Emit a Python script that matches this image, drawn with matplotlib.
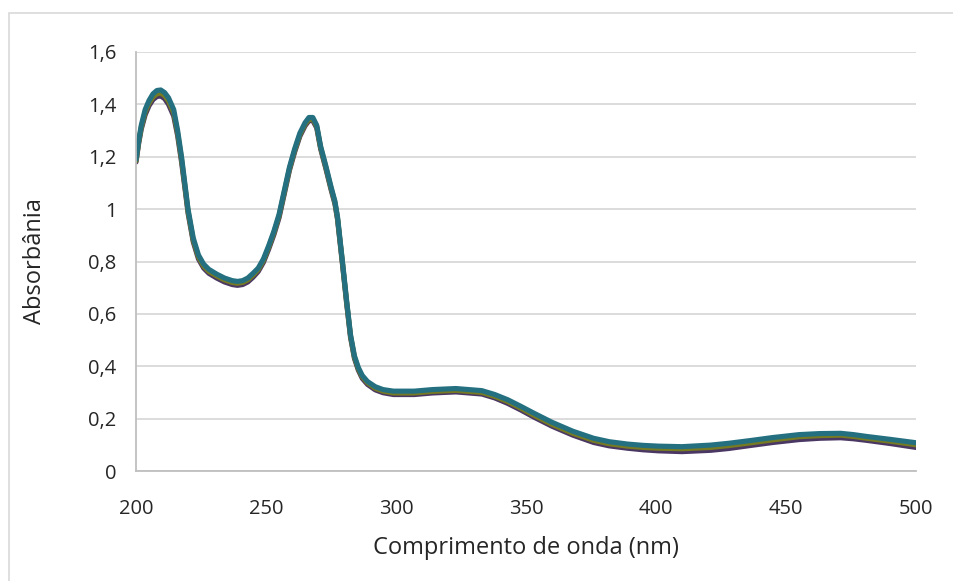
import matplotlib.pyplot as plt
from matplotlib.patches import Rectangle

plt.rcParams['font.family'] = ['Open Sans', 'DejaVu Sans']

# wavelength (nm)
wl = [200, 201, 202, 203.5, 205, 206.5, 208, 209.5, 211, 212.5, 214.5, 216, 217.5, 219,
      220, 222, 224, 226, 228, 231, 234, 237, 239, 241, 243, 245, 247, 249, 251, 253,
      255, 257, 259, 261, 263, 265, 266.5, 268, 269.5, 271, 273, 275, 276.5, 277.5,
      278.5, 279.5, 281, 282.5, 284, 285.5, 287, 289, 292, 295, 299, 307, 314, 323,
      333, 338, 343, 348, 353, 360, 368, 376, 382, 389, 395, 401, 410, 421, 428, 436,
      445, 455, 463, 471, 476, 481, 490, 500]

# absorbance of each sample
abs_purple = [1.18, 1.25, 1.305, 1.36, 1.395, 1.418, 1.43, 1.432, 1.422, 1.40, 1.355,
              1.28, 1.18, 1.065, 0.985, 0.875, 0.81, 0.775, 0.755, 0.737, 0.722, 0.712,
              0.709, 0.712, 0.722, 0.74, 0.762, 0.797, 0.847, 0.902, 0.967, 1.057, 1.148,
              1.218, 1.278, 1.318, 1.338, 1.338, 1.31, 1.23, 1.155, 1.075, 1.02, 0.96,
              0.87, 0.78, 0.64, 0.51, 0.43, 0.385, 0.354, 0.331, 0.31, 0.299, 0.292,
              0.292, 0.298, 0.302, 0.294, 0.279, 0.258, 0.233, 0.206, 0.171, 0.137,
              0.109, 0.096, 0.087, 0.081, 0.077, 0.074, 0.079, 0.086, 0.097, 0.109,
              0.12, 0.125, 0.127, 0.123, 0.117, 0.105, 0.09]
abs_olive = [1.185, 1.255, 1.312, 1.37, 1.405, 1.428, 1.44, 1.443, 1.433, 1.412, 1.367,
             1.29, 1.19, 1.072, 0.992, 0.882, 0.817, 0.782, 0.762, 0.745, 0.73, 0.72,
             0.717, 0.72, 0.73, 0.748, 0.769, 0.804, 0.854, 0.909, 0.974, 1.064, 1.154,
             1.224, 1.284, 1.324, 1.343, 1.343, 1.315, 1.235, 1.16, 1.08, 1.025, 0.965,
             0.875, 0.785, 0.645, 0.515, 0.435, 0.39, 0.36, 0.337, 0.316, 0.305, 0.298,
             0.298, 0.304, 0.308, 0.3, 0.285, 0.265, 0.24, 0.213, 0.178, 0.144, 0.117,
             0.104, 0.095, 0.09, 0.087, 0.085, 0.09, 0.097, 0.107, 0.119, 0.131, 0.135,
             0.137, 0.132, 0.125, 0.114, 0.1]
abs_teal = [1.19, 1.26, 1.32, 1.38, 1.415, 1.44, 1.453, 1.455, 1.445, 1.425, 1.38,
            1.30, 1.20, 1.08, 1.0, 0.89, 0.825, 0.79, 0.77, 0.752, 0.737, 0.727,
            0.724, 0.727, 0.737, 0.755, 0.775, 0.81, 0.86, 0.915, 0.98, 1.07, 1.16,
            1.23, 1.29, 1.33, 1.35, 1.35, 1.32, 1.24, 1.165, 1.085, 1.03, 0.97,
            0.88, 0.79, 0.65, 0.52, 0.44, 0.395, 0.365, 0.342, 0.322, 0.311, 0.305,
            0.305, 0.311, 0.315, 0.307, 0.292, 0.272, 0.247, 0.221, 0.186, 0.152,
            0.125, 0.112, 0.103, 0.098, 0.095, 0.093, 0.099, 0.106, 0.116, 0.128,
            0.139, 0.143, 0.144, 0.139, 0.132, 0.121, 0.108]

series = [abs_purple, abs_olive, abs_teal]
colors = ['#4b3764', '#767a22', '#247080']

x_ticks = [200, 250, 300, 350, 400, 450, 500]
y_ticks = [0, 0.2, 0.4, 0.6, 0.8, 1.0, 1.2, 1.4, 1.6]
y_labels = ['0', '0,2', '0,4', '0,6', '0,8', '1', '1,2', '1,4', '1,6']

fig = plt.figure(figsize=(9.54, 5.81), dpi=100)
ax = fig.add_axes([0.1426, 0.1893, 0.8176, 0.7212])

# outer chart border
fig.patches.append(Rectangle((9 / 954, -0.1), 1.0, 1.1 - 13 / 581,
                             transform=fig.transFigure, fill=False,
                             edgecolor='#d9d9d9', linewidth=1.2))

for vals, c in zip(series, colors):
    ax.plot(wl, vals, color=c, linewidth=3.7, solid_capstyle='round',
            solid_joinstyle='round')

ax.set_xlim(200, 500)
ax.set_ylim(0, 1.6)
ax.set_xticks(x_ticks)
ax.set_yticks(y_ticks)
ax.set_yticklabels(y_labels)
ax.tick_params(length=0, labelsize=14.5, colors='#262626')
ax.tick_params(axis='y', pad=14)
ax.tick_params(axis='x', pad=20)

ax.grid(axis='y', color='#d9d9d9', linewidth=1.3)
ax.set_axisbelow(True)
for s in ['top', 'right']:
    ax.spines[s].set_visible(False)
for s in ['left', 'bottom']:
    ax.spines[s].set_color('#bfbfbf')
    ax.spines[s].set_linewidth(1.3)

fig.text(526 / 954, 1 - 548 / 581, 'Comprimento de onda (nm)', fontsize=17,
         color='#262626', ha='center', va='center')
fig.text(35 / 954, 1 - 261 / 581, 'Absorbânia', fontsize=17, rotation=90,
         color='#262626', ha='center', va='center')

fig.savefig('out.png', dpi=100)
